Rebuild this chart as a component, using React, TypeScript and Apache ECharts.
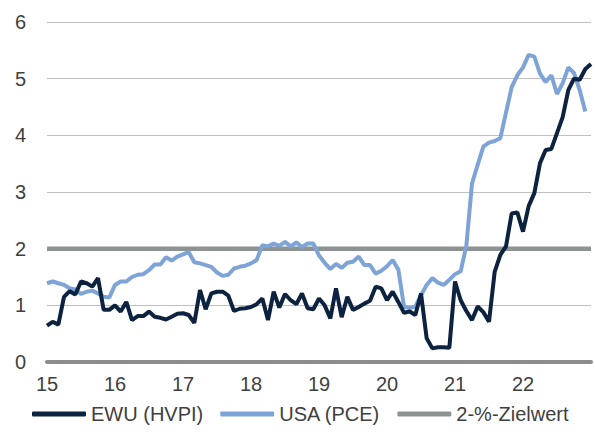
import React, { useEffect, useRef } from "react";
import * as echarts from "echarts";

const YEAR_LABELS = ["15", "16", "17", "18", "19", "20", "21", "22", "23"];
const MONTHS = ["01", "02", "03", "04", "05", "06", "07", "08", "09", "10", "11", "12"];

// Jan 2015 ... Jan 2023 (97 monthly points)
const CATEGORIES: string[] = [];
YEAR_LABELS.forEach((y, yi) => {
  MONTHS.forEach((m) => {
    if (yi < 8 || m === "01") CATEGORIES.push(`${y}-${m}`);
  });
});
const SHOWN_YEARS = YEAR_LABELS.slice(0, 8);

const EWU_HVPI = [
  0.64, 0.71, 0.66, 1.15, 1.25, 1.19, 1.42, 1.39, 1.33, 1.48, 0.92, 0.92,
  1.0, 0.89, 1.06, 0.74, 0.81, 0.81, 0.89, 0.8, 0.78, 0.75, 0.8, 0.85,
  0.86, 0.83, 0.69, 1.27, 0.93, 1.21, 1.24, 1.24, 1.17, 0.9, 0.94, 0.95,
  0.97, 1.02, 1.12, 0.74, 1.24, 0.96, 1.2, 1.09, 1.02, 1.21, 0.95, 0.93,
  1.12, 1.0, 0.77, 1.3, 0.79, 1.15, 0.92, 0.97, 1.03, 1.08, 1.33, 1.3,
  1.09, 1.24, 1.06, 0.87, 0.89, 0.83, 1.21, 0.42, 0.24, 0.26, 0.26, 0.25,
  1.42, 1.09, 0.9, 0.74, 0.98, 0.88, 0.71, 1.59, 1.89, 2.04, 2.62, 2.64,
  2.3, 2.75, 2.98, 3.51, 3.74, 3.76, 4.04, 4.32, 4.8, 5.0, 4.98, 5.17,
  5.26,
];

const USA_PCE = [
  1.39, 1.42, 1.39, 1.36, 1.3, 1.28, 1.2, 1.24, 1.26, 1.21, 1.15, 1.14,
  1.36, 1.42, 1.42, 1.5, 1.54, 1.55, 1.62, 1.72, 1.72, 1.85, 1.79, 1.86,
  1.9, 1.94, 1.76, 1.74, 1.71, 1.68, 1.58, 1.52, 1.54, 1.65, 1.68, 1.7,
  1.74, 1.8, 2.06, 2.04, 2.09, 2.05, 2.12, 2.04, 2.11, 2.03, 2.09, 2.09,
  1.88, 1.75, 1.64, 1.73, 1.66, 1.75, 1.77, 1.86, 1.71, 1.71, 1.56, 1.61,
  1.69, 1.8, 1.63, 0.98, 0.95, 0.98, 1.18, 1.36, 1.48, 1.4, 1.36, 1.45,
  1.55, 1.6, 2.05, 3.15, 3.48, 3.8, 3.87, 3.9, 3.95, 4.4, 4.85, 5.06,
  5.2, 5.42, 5.39, 5.09, 4.94, 5.06, 4.73, 4.92, 5.2, 5.1, 4.8, 4.42,
];

const TARGET_VALUE = 2;
const TARGET = CATEGORIES.map(() => TARGET_VALUE);

const NAMES = ["EWU (HVPI)", "USA (PCE)", "2-%-Zielwert"];

export default function App() {
  const ref = useRef<HTMLDivElement>(null);
  useEffect(() => {
    if (!ref.current) return;
    const chart = echarts.init(ref.current, null, { renderer: "svg" });
    const font = "Liberation Sans, Arial, sans-serif";
    chart.setOption({
      animation: false,
      backgroundColor: "#ffffff",
      grid: { left: 47, right: 4, top: 22, bottom: 70, containLabel: false },
      legend: {
        data: NAMES,
        left: 32,
        top: 404,
        itemWidth: 54,
        itemHeight: 5,
        itemGap: 17,
        icon: "roundRect",
        padding: 0,
        textStyle: { fontFamily: font, fontSize: 20, color: "#404040" },
      },
      xAxis: {
        type: "category",
        data: CATEGORIES,
        boundaryGap: false,
        axisTick: { show: false },
        axisLine: { show: true, lineStyle: { color: "#8c8c8c", width: 4 } },
        axisLabel: {
          interval: (index: number, value: string) =>
            index % 12 === 0 && SHOWN_YEARS.includes(value.slice(0, 2)) && index < 96,
          formatter: (v: string) => v.slice(0, 2),
          fontFamily: font,
          fontSize: 20,
          color: "#404040",
          margin: 12,
        },
        splitLine: { show: false },
      },
      yAxis: {
        type: "value",
        min: 0,
        max: 6,
        interval: 1,
        axisLine: { show: false },
        axisTick: { show: false },
        axisLabel: { fontFamily: font, fontSize: 20, color: "#404040", margin: 21 },
        splitLine: { lineStyle: { color: "#c0c0c0", width: 1 } },
      },
      series: [
        {
          name: NAMES[2],
          type: "line",
          data: TARGET,
          symbol: "none",
          z: 1,
          itemStyle: { color: "#8d9393" },
          lineStyle: { color: "#8d9393", width: 4.5 },
        },
        {
          name: NAMES[1],
          type: "line",
          data: USA_PCE,
          symbol: "none",
          z: 2,
          itemStyle: { color: "#7ea3d6" },
          lineStyle: { color: "#7ea3d6", width: 4 },
        },
        {
          name: NAMES[0],
          type: "line",
          data: EWU_HVPI,
          symbol: "none",
          z: 3,
          itemStyle: { color: "#0c223f" },
          lineStyle: { color: "#0c223f", width: 4 },
        },
      ],
    });
    return () => chart.dispose();
  }, []);
  return (
    <div
      ref={ref}
      style={{ position: "fixed", left: 0, top: 0, width: 595, height: 432 }}
    />
  );
}
